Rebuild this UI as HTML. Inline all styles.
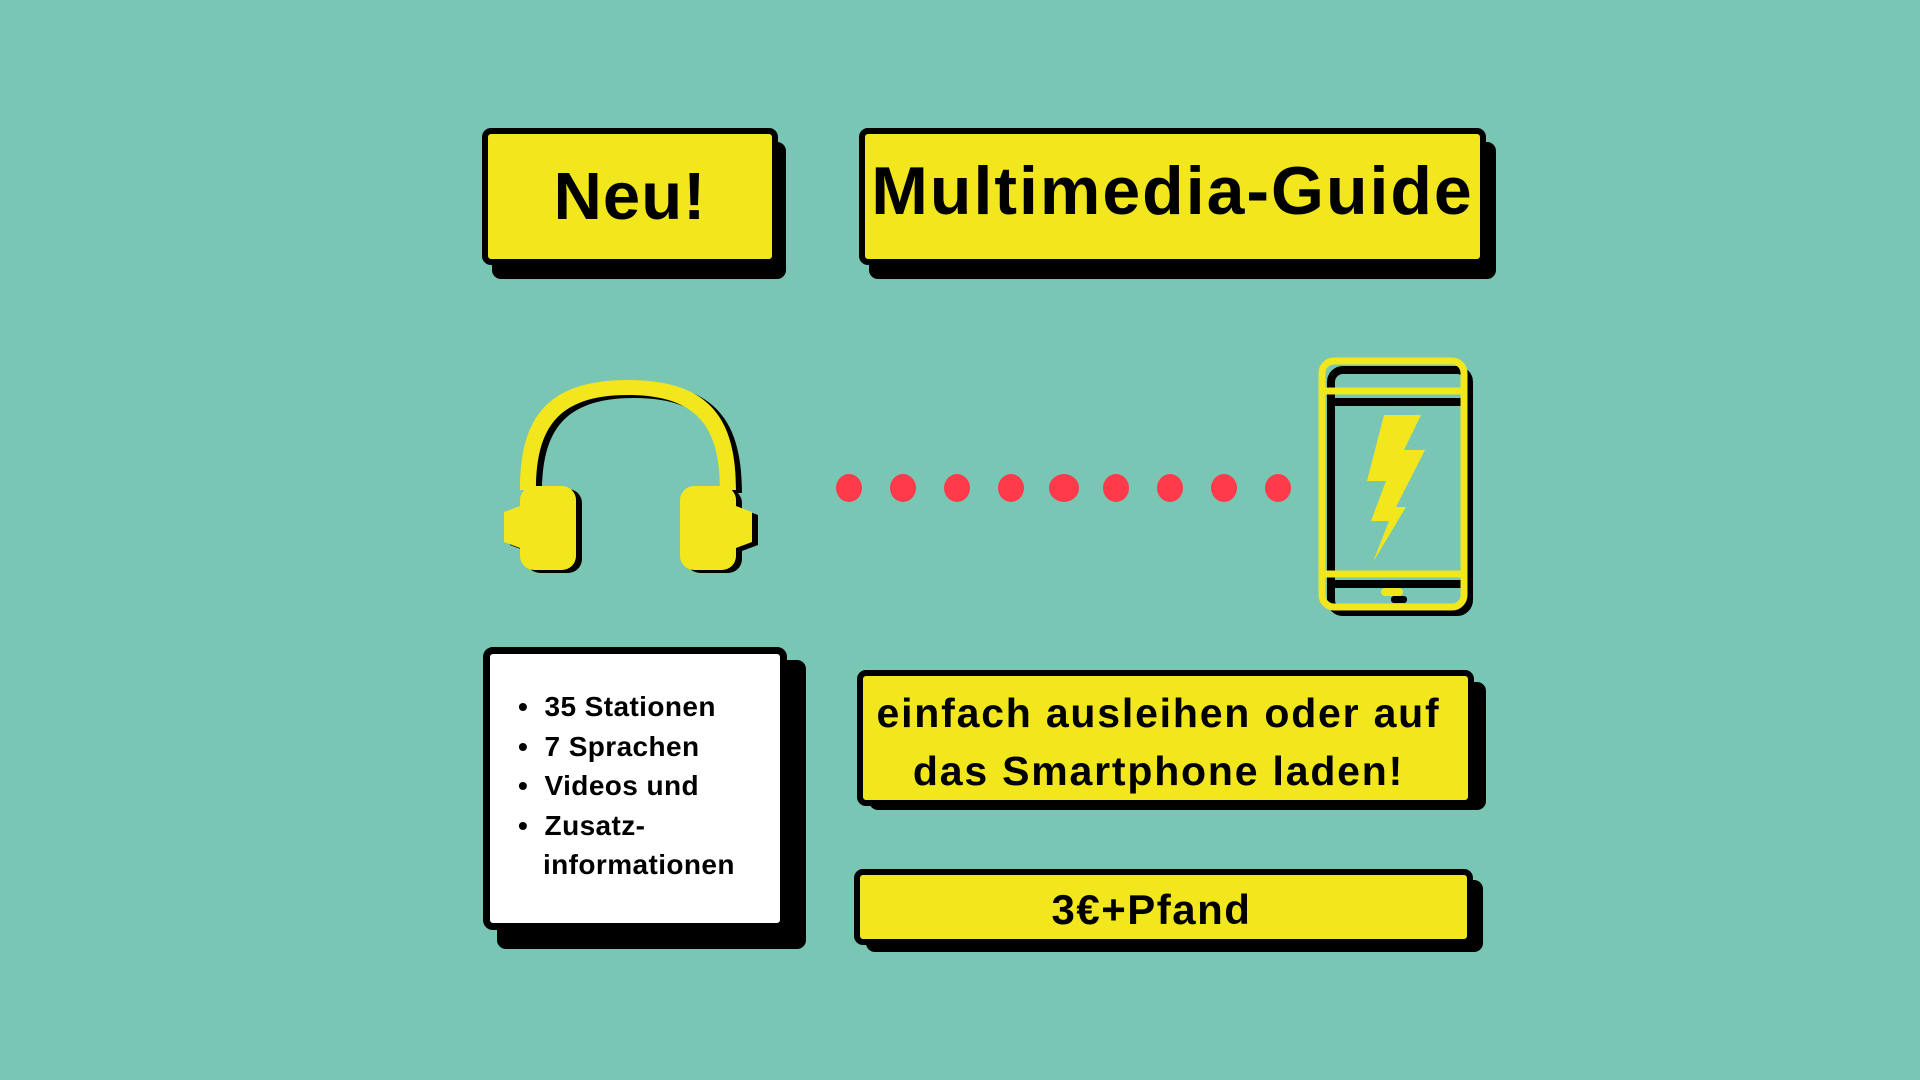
<!DOCTYPE html>
<html><head><meta charset="utf-8"><style>
html,body{margin:0;padding:0}
body{width:1920px;height:1080px;background:#79c6b5;position:relative;overflow:hidden;font-family:"Liberation Sans",sans-serif;font-weight:bold;color:#000}
.sh{position:absolute;background:#000;border-radius:9px}
.bx{position:absolute;background:#f2e61c;border:6px solid #000;border-radius:9px;box-sizing:border-box;display:flex;align-items:center;justify-content:center;text-align:center}
</style></head><body>
<div class="sh" style="left:492px;top:142px;width:294px;height:137px"></div>
<div class="bx" style="left:482px;top:128px;width:296px;height:137px;font-size:67px;letter-spacing:1px">Neu!</div>
<div class="sh" style="left:869px;top:142px;width:627px;height:137px"></div>
<div class="bx" style="left:859px;top:128px;width:627px;height:137px;font-size:68px;letter-spacing:2px;padding-bottom:12px">Multimedia-Guide</div>

<svg style="position:absolute;left:0;top:0" width="1920" height="1080">
<g transform="translate(6,3)" fill="#000">
<path d="M520 490 C520 420 545 380 628 380 C711 380 736 420 736 490 L720 490 C720 430 700 395 628 395 C556 395 536 430 536 490Z"/>
<rect x="520" y="486" width="56" height="84" rx="14"/><rect x="680" y="486" width="56" height="84" rx="14"/>
<path d="M504 512 L520 506 L520 548 L504 542Z"/><path d="M752 512 L736 506 L736 548 L752 542Z"/>
</g>
<g fill="#f2e61c">
<path d="M520 490 C520 420 545 380 628 380 C711 380 736 420 736 490 L720 490 C720 430 700 395 628 395 C556 395 536 430 536 490Z"/>
<rect x="520" y="486" width="56" height="84" rx="14"/><rect x="680" y="486" width="56" height="84" rx="14"/>
<path d="M504 512 L520 506 L520 548 L504 542Z"/><path d="M752 512 L736 506 L736 548 L752 542Z"/>
</g>
<g fill="#ff3a4a">
<ellipse cx="849" cy="488" rx="13" ry="14"/><ellipse cx="903" cy="488" rx="13" ry="14"/><ellipse cx="957" cy="488" rx="13" ry="14"/><ellipse cx="1011" cy="488" rx="13" ry="14"/><ellipse cx="1064" cy="488" rx="15" ry="14"/><ellipse cx="1116" cy="488" rx="13" ry="14"/><ellipse cx="1170" cy="488" rx="13" ry="14"/><ellipse cx="1224" cy="488" rx="13" ry="14"/><ellipse cx="1278" cy="488" rx="13" ry="14"/>
</g>
<g fill="none" stroke="#000" stroke-width="8">
<rect x="1331" y="370" width="138" height="242" rx="12"/>
<line x1="1331" y1="402" x2="1469" y2="402"/><line x1="1331" y1="584" x2="1469" y2="584"/>
</g>
<rect x="1391" y="596" width="16" height="7" rx="3" fill="#000"/>
<g fill="none" stroke="#f2e61c" stroke-width="7">
<rect x="1322" y="361" width="142" height="246" rx="12"/>
<line x1="1322" y1="391" x2="1464" y2="391"/><line x1="1322" y1="574" x2="1464" y2="574"/>
</g>
<rect x="1381" y="588" width="22" height="8" rx="4" fill="#f2e61c"/>
<polygon fill="#f2e61c" points="1384,415 1421,415 1404,450 1425,450 1396,507 1406,507 1373,562 1389,521 1371,521 1386,481 1367,481"/>
</svg>

<div class="sh" style="left:497px;top:660px;width:309px;height:289px"></div>
<div style="position:absolute;left:483px;top:647px;width:304px;height:283px;background:#fff;border:7px solid #000;border-radius:10px;box-sizing:border-box;font-size:28px;letter-spacing:0.4px;line-height:39.5px;padding:33px 0 0 28px">
<div>•&nbsp; 35 Stationen</div><div>•&nbsp; 7 Sprachen</div><div>•&nbsp; Videos und</div><div>•&nbsp; Zusatz-</div><div style="padding-left:25px">informationen</div>
</div>

<div class="sh" style="left:869px;top:682px;width:617px;height:128px"></div>
<div class="bx" style="left:857px;top:670px;width:617px;height:136px;font-size:41px;letter-spacing:1.8px;line-height:58px;padding-top:8px;padding-right:14px">einfach ausleihen oder auf<br>das Smartphone laden!</div>
<div class="sh" style="left:866px;top:880px;width:617px;height:72px"></div>
<div class="bx" style="left:854px;top:869px;width:619px;height:76px;font-size:42px;letter-spacing:1.5px;padding-right:24px;padding-top:6px">3€+Pfand</div>
</body></html>
